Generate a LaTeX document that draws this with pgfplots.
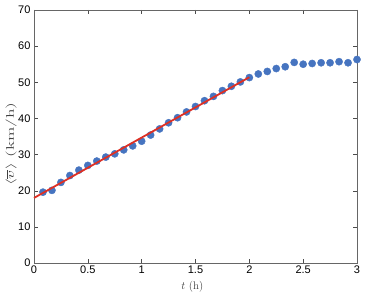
\documentclass[border=0pt]{standalone}
\usepackage{pgfplots}
\pgfplotsset{compat=1.18}
\usepackage{fontspec}
\newfontfamily\ticksf{Liberation Sans}
\usetikzlibrary{calc}
\definecolor{dotblue}{RGB}{70,116,192}
\definecolor{fitred}{RGB}{222,48,36}
\begin{document}
\begin{tikzpicture}
\begin{axis}[name=ax,
  set layers,
  scale only axis, width=323pt, height=253pt,
  xmin=0, xmax=3, ymin=0, ymax=70,
  xtick={0,0.5,...,3}, ytick={0,10,...,70},
  tick align=inside, major tick length=4pt,
  tick style={color=black!70, line width=0.4pt},
  axis line style={color=black!60, line width=0.6pt},
  /pgf/number format/assume math mode=true,
  ticklabel style={font=\ticksf\fontsize{11}{12}\selectfont},
  xticklabel style={yshift=1pt},
  xlabel={$t$ (h)}, ylabel={$\langle \overline{v}\rangle$ (km/h)},
  label style={font=\fontsize{11}{12}\selectfont, color=black!75},
  xlabel style={at={(axis description cs:0.49,-0.095)}, anchor=center},
  ylabel style={at={(axis description cs:-0.071,0.47)}, anchor=center, xscale=1.6},
  clip=false,
]
\addplot[only marks, mark=*, mark size=3.6pt, color=dotblue] coordinates {
(0.0833,19.6)(0.1667,20.1)(0.25,22.3)(0.3333,24.2)(0.4167,25.7)(0.5,27.0)
(0.5833,28.2)(0.6667,29.3)(0.75,30.2)(0.8333,31.3)(0.9167,32.4)(1.0,33.7)
(1.0833,35.4)(1.1667,37.1)(1.25,38.8)(1.3333,40.2)(1.4167,41.8)(1.5,43.3)
(1.5833,44.9)(1.6667,46.1)(1.75,47.7)(1.8333,48.9)(1.9167,50.1)(2.0,51.3)
(2.0833,52.3)(2.1667,53.0)(2.25,53.8)(2.3333,54.3)(2.4167,55.5)(2.5,55.0)
(2.5833,55.2)(2.6667,55.4)(2.75,55.4)(2.8333,55.7)(2.9167,55.4)(3.0,56.3)
};
\addplot[fitred, line width=1.8pt, on layer=axis foreground] coordinates {(0,18.0)(2,51.4)};
\end{axis}
\pgfresetboundingbox
\path ($(ax.south west)+(-34pt,-33pt)$) rectangle ($(ax.north east)+(17pt,10pt)$);
\end{tikzpicture}
\end{document}
